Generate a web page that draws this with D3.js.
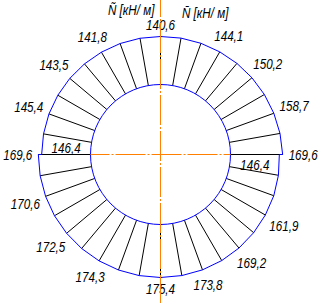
<!DOCTYPE html>
<html lang="en">
<head>
    <meta charset="UTF-8">
    <script src="https://d3js.org/d3.v7.min.js"></script>
    <style>
        body { margin: 0; background: #ffffff; }
        text {
            font-family: "Liberation Sans", Arial, sans-serif;
            font-style: italic;
            font-size: 14px;
            fill: #000;
        }
        .ring { fill: none; stroke: #0000ff; stroke-width: 1px; }
        .ray { stroke: #000; stroke-width: 1px; }
        .axis { stroke: #ff8000; stroke-width: 1px; stroke-dasharray: 30, 2, 2, 2; }
    </style>
</head>
<body>
<script>
    const width = 327;
    const height = 303;

    // angle of each radial line, clockwise from the top (degrees)
    const rayAngles = [0, 10, 20, 30, 40, 50, 60, 70, 80, 90, 100, 110,
        120, 130, 140, 150, 160, 170, 180, 190, 200, 210, 220, 230,
        240, 250, 260, 270, 280, 290, 300, 310, 320, 330, 340, 350];
    // force N at each radial line, kN/m
    const rayValues = [140.6, 141.9, 142.9, 144.1, 147.0, 150.2, 154.2, 158.7, 163.9, 169.6, 152.8, 158.4,
        161.9, 165.8, 169.2, 171.8, 173.8, 175.0, 175.4, 175.2, 174.8, 174.3, 173.4, 172.5,
        171.5, 170.6, 170.0, 169.6, 146.0, 145.4, 144.4, 143.5, 142.6, 141.8, 141.3, 140.9];
    // jumps of the diagram: value on the other side of the line
    const jumpAngles = [90, 270];
    const jumpValues = [146.4, 146.4];
    // radial lines that carry a value label
    const labelAngles = [0, 30, 50, 70, 90, 120, 140, 160, 180, 210, 230, 250, 270, 290, 310, 330];
    const titleLeft = "N\u0303 [кН/ м]";
    const titleRight = "N\u0304  [кН/ м]";

    const cx = 160.5;
    const cy = 154.5;
    const innerR = 70;
    const narrow = 0.83;   // the drawing uses a narrow italic face
    const rad = d => d * Math.PI / 180;
    const fmt = v => d3.format('.1f')(v).replace('.', ',');

    const r = d3.scaleLinear().domain([140.6, 175.4]).range([118, 123]);

    const svg = d3.select('body').append('svg')
        .attr('width', width)
        .attr('height', height);

    const g = svg.append('g').attr('transform', `translate(${cx},${cy})`);

    function squeeze(t) {
        const w = t.node().getComputedTextLength() * narrow;
        t.attr('textLength', w).attr('lengthAdjust', 'spacingAndGlyphs');
        return w;
    }

    // outline points, the jumps give two points on the same line
    const pts = [];
    rayAngles.forEach((a, i) => {
        pts.push([a, rayValues[i]]);
        const j = jumpAngles.indexOf(a);
        if (j >= 0) pts.push([a, jumpValues[j]]);
    });

    const outline = d3.lineRadial()
        .angle(d => rad(d[0]))
        .radius(d => r(d[1]))
        .curve(d3.curveLinearClosed);

    const rays = rayAngles.map((a, i) => {
        const j = jumpAngles.indexOf(a);
        const v = j >= 0 ? Math.max(rayValues[i], jumpValues[j]) : rayValues[i];
        return {a: a, v: v};
    });

    g.selectAll('.ray')
        .data(rays)
        .enter().append('line')
        .attr('class', 'ray')
        .attr('x1', d => innerR * Math.sin(rad(d.a)))
        .attr('y1', d => -innerR * Math.cos(rad(d.a)))
        .attr('x2', d => r(d.v) * Math.sin(rad(d.a)))
        .attr('y2', d => -r(d.v) * Math.cos(rad(d.a)));

    g.append('path')
        .datum(pts)
        .attr('class', 'ring')
        .attr('d', outline);

    g.append('circle')
        .attr('class', 'ring')
        .attr('r', innerR);

    // centre lines
    svg.append('line')
        .attr('class', 'axis')
        .attr('x1', cx).attr('x2', cx)
        .attr('y1', 0).attr('y2', height)
        .style('stroke-dashoffset', 13);
    svg.append('line')
        .attr('class', 'axis')
        .attr('x1', cx - innerR).attr('x2', cx + innerR)
        .attr('y1', cy).attr('y2', cy)
        .style('stroke-dashoffset', 11);

    // value labels outside the ring
    const gap = 6;
    labelAngles.forEach(a => {
        const i = rayAngles.indexOf(a);
        const v = rayValues[i];
        const s = Math.sin(rad(a)), c = -Math.cos(rad(a));
        const t = g.append('text')
            .attr('text-anchor', 'middle')
            .text(fmt(v));
        const w = squeeze(t);
        const he = Math.abs(s) * w / 2 + Math.abs(c) * 5.5;
        const d = r(v) + gap + he;
        t.attr('x', s * d).attr('y', c * d + 5);
    });

    // jump values inside the ring
    jumpAngles.forEach((a, j) => {
        const s = Math.sin(rad(a));
        const mid = (innerR + r(jumpValues[j])) / 2;
        const t = g.append('text')
            .attr('text-anchor', 'middle')
            .attr('x', s * mid)
            .attr('y', s > 0 ? 15 : -2)
            .text(fmt(jumpValues[j]));
        squeeze(t);
    });

    squeeze(svg.append('text').attr('x', 108).attr('y', 15).text(titleLeft));
    squeeze(svg.append('text').attr('x', 182).attr('y', 18).text(titleRight));
</script>
</body>
</html>
